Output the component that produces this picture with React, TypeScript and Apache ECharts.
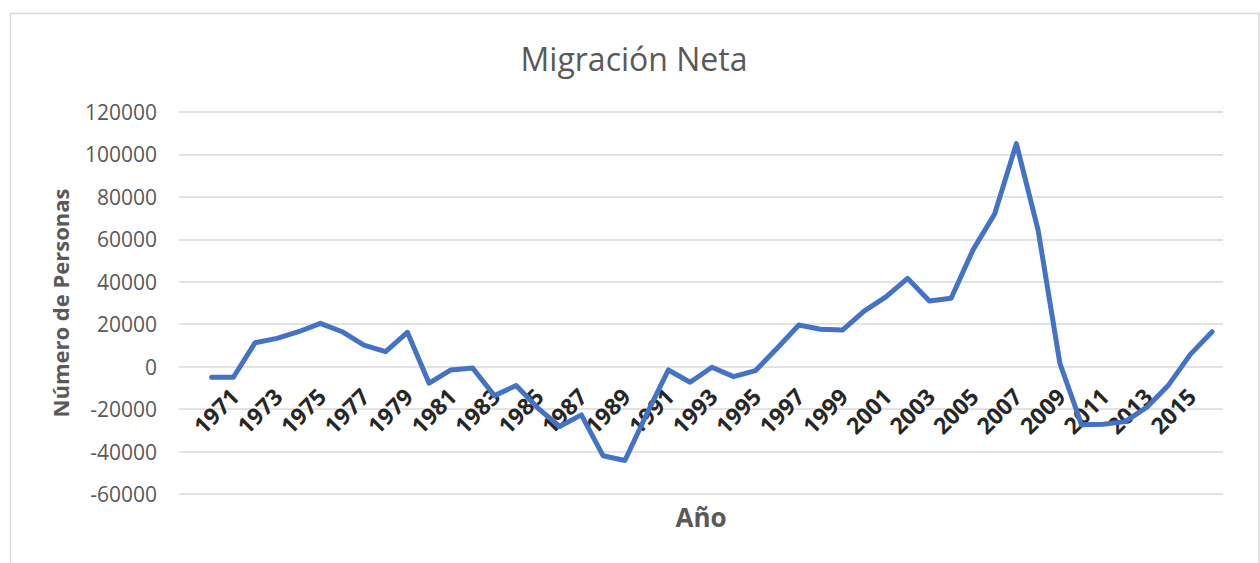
import React, { useEffect, useRef } from "react";
import * as echarts from "echarts";

// Categories: a leading empty slot, then the years 1971–2017
const years: string[] = [
  "", "1971", "1972", "1973", "1974", "1975", "1976", "1977", "1978", "1979", "1980",
  "1981", "1982", "1983", "1984", "1985", "1986", "1987", "1988", "1989", "1990",
  "1991", "1992", "1993", "1994", "1995", "1996", "1997", "1998", "1999", "2000",
  "2001", "2002", "2003", "2004", "2005", "2006", "2007", "2008", "2009", "2010",
  "2011", "2012", "2013", "2014", "2015", "2016", "2017",
];

// Tick labels shown on the category axis
const shownYearLabels: string[] = [
  "1971", "1973", "1975", "1977", "1979", "1981", "1983", "1985", "1987", "1989",
  "1991", "1993", "1995", "1997", "1999", "2001", "2003", "2005", "2007", "2009",
  "2011", "2013", "2015",
];

// Net migration (persons)
const netMigration: (number | null)[] = [
  null,
  -5000, -5000, 11300, 13350, 16470, 20400, 16470, 10200, 7060, 16200,
  -7800, -1550, -600, -13650, -8900, -19500, -28200, -22700, -42000, -44200,
  -22400, -1550, -7350, -300, -4700, -1900, 8650, 19600, 17600, 17270,
  26200, 32900, 41600, 30900, 32200, 54900, 71900, 105100, 64300, 1600,
  -27400, -27100, -25900, -19100, -8600, 5800, 16470,
];

const titleText = "Migración Neta";
const yAxisTitle = "Número de Personas";
const xAxisTitle = "Año";

export default function App() {
  const ref = useRef<HTMLDivElement>(null);

  useEffect(() => {
    if (!ref.current) return;
    const chart = echarts.init(ref.current, null, { renderer: "svg" });
    chart.setOption({
      animation: false,
      backgroundColor: "#ffffff",
      graphic: [
        {
          type: "rect",
          shape: { x: 10.5, y: 13.5, width: 1248.5, height: 600 },
          style: { fill: "none", stroke: "#d9d9d9", lineWidth: 1.5 },
          silent: true,
        },
        {
          type: "text",
          x: 634,
          y: 58,
          style: {
            text: titleText,
            fontFamily: "Open Sans",
            fontSize: 32,
            fill: "#595959",
            textAlign: "center",
            textVerticalAlign: "middle",
          },
        },
      ],
      grid: {
        left: 179,
        right: 37,
        top: 112,
        bottom: 69,
        containLabel: false,
        outerBoundsMode: "none",
      },
      xAxis: {
        type: "category",
        data: years,
        boundaryGap: true,
        name: xAxisTitle,
        nameLocation: "middle",
        nameGap: 10,
        nameTextStyle: {
          fontFamily: "Open Sans",
          fontSize: 26,
          fontWeight: "bold",
          color: "#595959",
          verticalAlign: "top",
        },
        axisLine: { show: false, onZero: false },
        axisTick: { show: false },
        axisLabel: {
          interval: (_i: number, v: string) => shownYearLabels.includes(v),
          rotate: 45,
          align: "center",
          verticalAlign: "middle",
          margin: -79,
          padding: [0, 0, 0, 12],
          fontFamily: "Open Sans",
          fontSize: 23,
          fontWeight: "bold",
          color: "#262626",
        },
        splitLine: { show: false },
      },
      yAxis: {
        type: "value",
        min: -60000,
        max: 120000,
        interval: 20000,
        name: yAxisTitle,
        nameLocation: "middle",
        nameGap: 108,
        nameRotate: 90,
        nameTextStyle: {
          fontFamily: "Open Sans",
          fontSize: 22,
          fontWeight: "bold",
          color: "#595959",
        },
        axisLine: { show: false },
        axisTick: { show: false },
        axisLabel: {
          margin: 22,
          fontFamily: "Open Sans",
          fontSize: 21,
          color: "#595959",
          formatter: (v: number) => String(v),
        },
        splitLine: { show: true, lineStyle: { color: "#d9d9d9", width: 1.5 } },
      },
      series: [
        {
          type: "line",
          data: netMigration,
          symbol: "none",
          z: 5,
          connectNulls: false,
          lineStyle: { color: "#4472C4", width: 5, cap: "round", join: "round" },
          itemStyle: { color: "#4472C4" },
        },
      ],
    });
    return () => chart.dispose();
  }, []);

  return (
    <div
      ref={ref}
      style={{ position: "fixed", left: 0, top: 0, width: 1260, height: 563, background: "#fff" }}
    />
  );
}
